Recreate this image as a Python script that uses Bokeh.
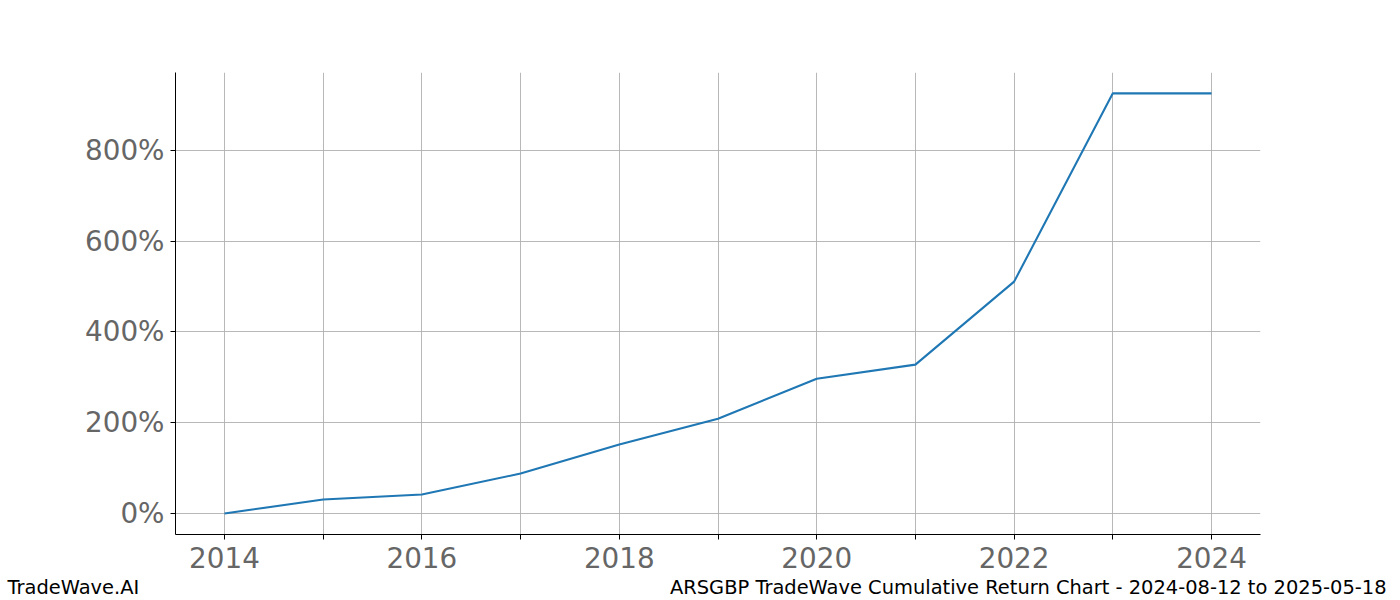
from bokeh.plotting import figure
from bokeh.models import FixedTicker, Range1d
from bokeh.layouts import column
from bokeh.core.properties import value
from bokeh.embed import file_html
from bokeh.resources import INLINE

years = [2014, 2015, 2016, 2017, 2018, 2019, 2020, 2021, 2022, 2023, 2024]
returns_pct = [0, 31, 42, 88, 152, 209, 297, 328, 511, 926, 926]
y_ticks = [0, 200, 400, 600, 800]
y_tick_labels = ["0%", "200%", "400%", "600%", "800%"]
x_label_years = [2014, 2016, 2018, 2020, 2022, 2024]
footer_left = "TradeWave.AI"
footer_right = "ARSGBP TradeWave Cumulative Return Chart - 2024-08-12 to 2025-05-18"

FONT = "DejaVu Sans"
W = 1400

p = figure(width=W, height=576, output_backend="svg", toolbar_location=None,
           x_range=Range1d(2013.504, 2024.496), y_range=Range1d(-46.3, 971.9),
           min_border_left=175, min_border_right=140, min_border_top=72, min_border_bottom=42)
p.outline_line_color = None
p.background_fill_color = "white"
p.border_fill_color = "white"
p.frame_align = False

p.line(years, returns_pct, line_color="#1f77b4", line_width=2.1)

p.xaxis.ticker = FixedTicker(ticks=years)
p.xaxis.major_label_overrides = {y: (str(y) if y in x_label_years else "") for y in years}
p.yaxis.ticker = FixedTicker(ticks=y_ticks)
p.yaxis.major_label_overrides = {t: l for t, l in zip(y_ticks, y_tick_labels)}

for ax in (p.xaxis, p.yaxis):
    ax.major_label_text_font = FONT
    ax.major_label_text_font_size = "27.8px"
    ax.major_label_text_color = "#666666"
    ax.axis_line_color = "black"
    ax.axis_line_width = 1
    ax.major_tick_line_color = "black"
    ax.major_tick_out = 5
    ax.major_tick_in = 0
    ax.minor_tick_line_color = None
p.xaxis.major_label_standoff = 7
p.yaxis.major_label_standoff = 6

p.xgrid.ticker = FixedTicker(ticks=years)
p.ygrid.ticker = FixedTicker(ticks=y_ticks)
for g in (p.xgrid, p.ygrid):
    g.grid_line_color = "#b0b0b0"
    g.grid_line_width = 1
    g.grid_line_alpha = 0.9

# footer strip
f = figure(width=W, height=24, output_backend="svg", toolbar_location=None,
           x_range=Range1d(0, W), y_range=Range1d(0, 24),
           min_border=0, min_border_left=0, min_border_right=0,
           min_border_top=0, min_border_bottom=0)
f.frame_align = False
f.axis.visible = False
f.grid.visible = False
f.outline_line_color = None
f.background_fill_color = "white"
f.border_fill_color = "white"
f.text(x=[7], y=[13], text=[footer_left], text_font=value(FONT), text_font_size="19.44px",
       text_color="black", text_align="left", text_baseline="middle")
f.text(x=[1386], y=[13], text=[footer_right], text_font=value(FONT), text_font_size="19.44px",
       text_color="black", text_align="right", text_baseline="middle")

layout = column(p, f, spacing=0)
open("out.html", "w").write(file_html(layout, INLINE))
